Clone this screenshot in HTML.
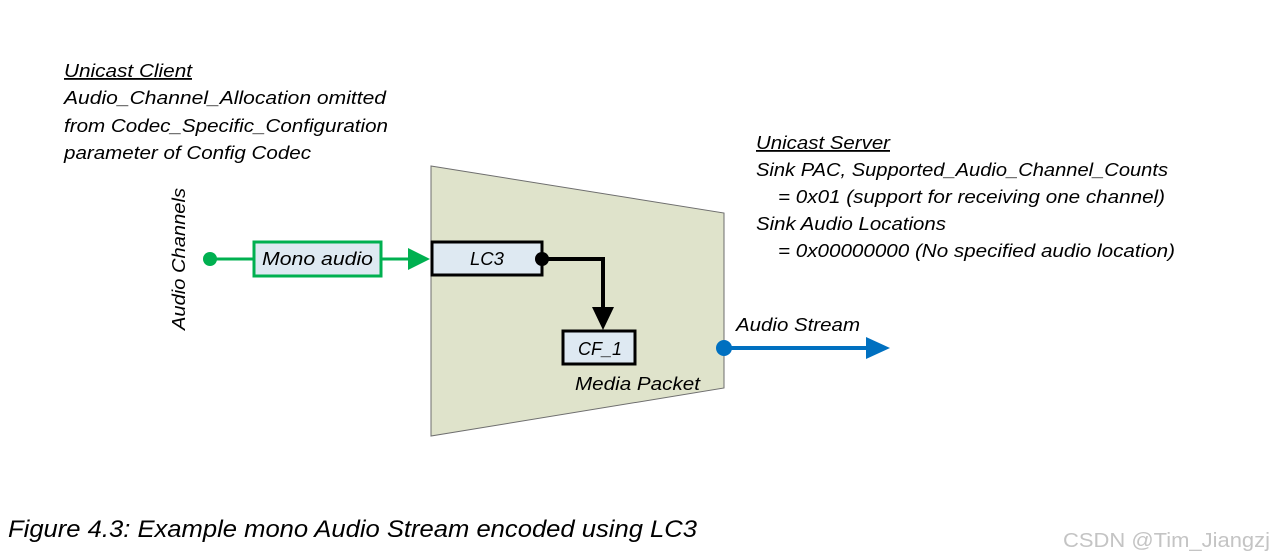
<!DOCTYPE html>
<html><head><meta charset="utf-8"><style>
html,body{margin:0;padding:0;background:#fff;}
svg{display:block;}
text{font-family:"Liberation Sans",sans-serif;font-style:italic;fill:#000;}
</style></head><body>
<svg width="1279" height="560" viewBox="0 0 1279 560" xmlns="http://www.w3.org/2000/svg">
<text x="64" y="77" font-size="18" text-decoration="underline" textLength="128" lengthAdjust="spacingAndGlyphs">Unicast Client</text>
<text x="64" y="104" font-size="18" textLength="322" lengthAdjust="spacingAndGlyphs">Audio_Channel_Allocation omitted</text>
<text x="64" y="132" font-size="18" textLength="324" lengthAdjust="spacingAndGlyphs">from Codec_Specific_Configuration</text>
<text x="64" y="159" font-size="18" textLength="247" lengthAdjust="spacingAndGlyphs">parameter of Config Codec</text>

<text x="756" y="149" font-size="18" text-decoration="underline" textLength="134" lengthAdjust="spacingAndGlyphs">Unicast Server</text>
<text x="756" y="176" font-size="18" textLength="412" lengthAdjust="spacingAndGlyphs">Sink PAC, Supported_Audio_Channel_Counts</text>
<text x="778" y="203" font-size="18" textLength="387" lengthAdjust="spacingAndGlyphs">= 0x01 (support for receiving one channel)</text>
<text x="756" y="230" font-size="18" textLength="190" lengthAdjust="spacingAndGlyphs">Sink Audio Locations</text>
<text x="778" y="257" font-size="18" textLength="397" lengthAdjust="spacingAndGlyphs">= 0x00000000 (No specified audio location)</text>

<text transform="translate(185,330) rotate(-90)" font-size="18" textLength="142" lengthAdjust="spacingAndGlyphs">Audio Channels</text>

<polygon points="431,166 724,213 724,388 431,436" fill="#dfe3cb" stroke="#6e6e6e" stroke-width="1"/>

<line x1="210" y1="259" x2="253" y2="259" stroke="#00b050" stroke-width="3"/>
<circle cx="210" cy="259" r="7" fill="#00b050"/>
<rect x="254" y="242" width="127" height="34" fill="#dee9f2" stroke="#00b050" stroke-width="3"/>
<text x="262" y="265" font-size="18" textLength="111" lengthAdjust="spacingAndGlyphs">Mono audio</text>
<line x1="381" y1="259" x2="410" y2="259" stroke="#00b050" stroke-width="3"/>
<polygon points="408,248 430,259 408,270" fill="#00b050"/>

<rect x="432" y="242" width="110" height="33" fill="#dee9f2" stroke="#000" stroke-width="3"/>
<text x="470" y="265" font-size="18" textLength="34" lengthAdjust="spacingAndGlyphs">LC3</text>
<polyline points="542,259 603,259 603,312" fill="none" stroke="#000" stroke-width="4"/>
<circle cx="542" cy="259" r="7" fill="#000"/>
<polygon points="592,307 614,307 603,330" fill="#000"/>

<rect x="563" y="331" width="72" height="33" fill="#dee9f2" stroke="#000" stroke-width="3"/>
<text x="578" y="355" font-size="18" textLength="44" lengthAdjust="spacingAndGlyphs">CF_1</text>
<text x="575" y="390" font-size="18" textLength="125" lengthAdjust="spacingAndGlyphs">Media Packet</text>

<text x="736" y="331" font-size="18" textLength="124" lengthAdjust="spacingAndGlyphs">Audio Stream</text>
<line x1="724" y1="348" x2="870" y2="348" stroke="#0070c0" stroke-width="4"/>
<circle cx="724" cy="348" r="8" fill="#0070c0"/>
<polygon points="866,337 890,348 866,359" fill="#0070c0"/>

<text x="8" y="537" font-size="24" textLength="689" lengthAdjust="spacingAndGlyphs">Figure 4.3: Example mono Audio Stream encoded using LC3</text>
<text x="1063" y="547" font-size="20" font-style="normal" style="font-style:normal;fill:#c4c4c4" textLength="207" lengthAdjust="spacingAndGlyphs">CSDN @Tim_Jiangzj</text>
</svg>
</body></html>
